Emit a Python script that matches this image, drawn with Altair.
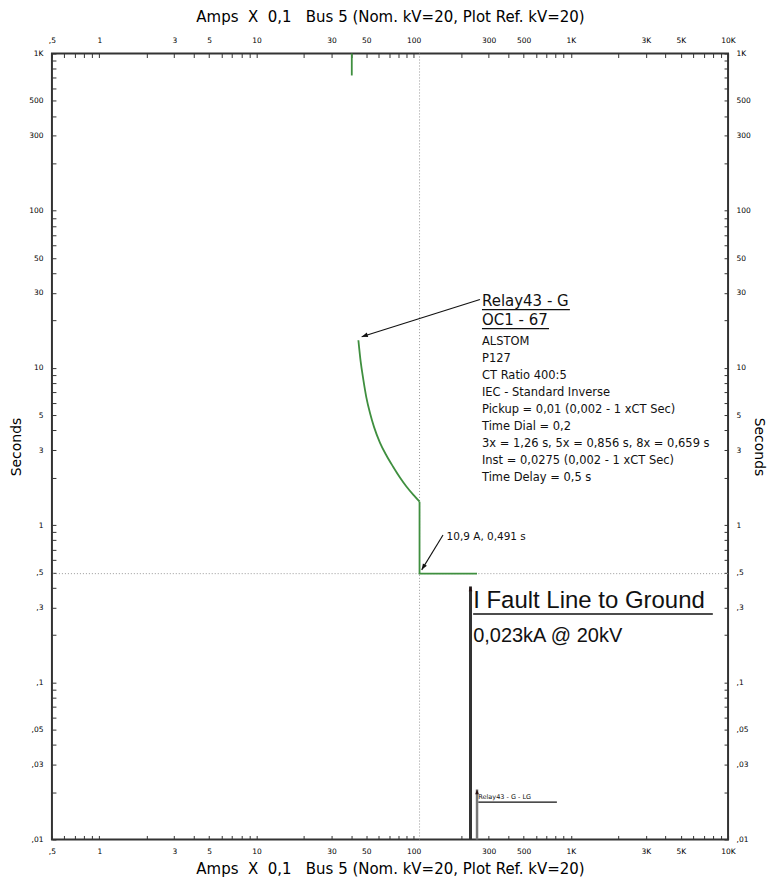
import json
import altair as alt
import pandas as pd

FONT = "Liberation Sans"
DV = "DejaVu Sans"
GREEN = "#3f8f3f"

# ---- data (x: Amps X 0,1 ; y: seconds) ----
curve_amps = [44.5, 46, 47.9, 50, 52.8, 56, 61, 67, 74, 82, 89.9, 100, 109]
curve_secs = [15.0, 11.0, 8.37, 6.5, 5.14, 4.2, 3.35, 2.78, 2.35, 2.0, 1.76, 1.55, 1.41]
step_amps = [109, 109, 253]
step_secs = [1.41, 0.491, 0.491]
pickup_amps = [40.4, 40.4]
pickup_secs = [1000, 725]

ref_amps = [109]          # 10,9 A
ref_secs = [0.491]        # 0,491 s

fault_amps = [230]
fault_top = [0.407]
lg_amps = [253]
lg_top = [0.0208]

# tick values / labels
x_tick_vals = [0.5, 0.6, 0.7, 0.8, 0.9] + [round(m * d, 6) for d in [1, 10, 100, 1000] for m in range(1, 10)] + [10000]
y_tick_vals = [round(m * d, 6) for d in [0.01, 0.1, 1, 10, 100] for m in range(1, 10)] + [1000]
x_label_vals = [0.5, 1, 3, 5, 10, 30, 50, 100, 300, 500, 1000, 3000, 5000, 10000]
x_label_text = [",5", "1", "3", "5", "10", "30", "50", "100", "300", "500", "1K", "3K", "5K", "10K"]
y_label_vals = [0.01, 0.03, 0.05, 0.1, 0.3, 0.5, 1, 3, 5, 10, 30, 50, 100, 300, 500, 1000]
y_label_text = [",01", ",03", ",05", ",1", ",3", ",5", "1", "3", "5", "10", "30", "50", "100", "300", "500", "1K"]

x_title = "Amps\u00a0 X\u00a0 0,1\u00a0\u00a0 Bus 5 (Nom. kV=20, Plot Ref. kV=20)"
y_title = "Seconds"

# annotation text
relay_head = ["Relay43 - G", "OC1 - 67"]
relay_head_amps = [272, 272]
relay_head_secs = [26.7, 20.3]
relay_lines = [
    "ALSTOM",
    "P127",
    "CT Ratio 400:5",
    "IEC - Standard Inverse",
    "Pickup = 0,01 (0,002 - 1  xCT Sec)",
    "Time Dial = 0,2",
    "3x = 1,26 s, 5x = 0,856 s, 8x = 0,659 s",
    "Inst = 0,0275 (0,002 - 1  xCT Sec)",
    "Time Delay = 0,5 s",
]
relay_block_amps = [272]
relay_block_secs = [16.0]

head_ul_x = [272, 272]
head_ul_x2 = [986, 726]
head_ul_y = [23.5, 17.8]

# arrows: start -> tip
arrow_x = [264, 153.7]
arrow_y = [27.2, 0.866]
arrow_x2 = [46.7, 112.5]
arrow_y2 = [15.8, 0.519]
arrow_ang = [252.5, 211.3]

op_text = ["10,9 A, 0,491 s"]
op_amps = [162]
op_secs = [0.845]

fault_text = ["I Fault Line to Ground", "0,023kA @ 20kV"]
fault_text_amps = [239, 239]
fault_text_secs = [0.327, 0.196]
fault_text_size = [24, 20]
fault_ul_x = [239]
fault_ul_x2 = [8000]
fault_ul_y = [0.272]

lg_text = ["Relay43 - G - LG"]
lg_text_amps = [258]
lg_text_secs = [0.01875]
lg_ul_x = [258]
lg_ul_x2 = [815]
lg_ul_y = [0.01726]

# ---- scales & axes ----
xs = alt.Scale(type="log", domain=[0.5, 10000], nice=False)
ys = alt.Scale(type="log", domain=[0.01, 1000], nice=False)

x_expr = f"({json.dumps(x_label_text)})[indexof({json.dumps(x_label_vals)}, datum.value)] || ''"
y_expr = f"({json.dumps(y_label_text)})[indexof({json.dumps(y_label_vals)}, datum.value)] || ''"

common = dict(
    tickSize=4, offset=-4, domain=False, grid=False, tickColor="#333", tickWidth=1,
    labelFontSize=7.5, labelFont=DV, labelColor="#000", labelOverlap=False, labelFlush=False,
    titleFont=DV, titleFontWeight="normal", titleColor="#000",
)


def x_axis(orient, pad, tpad):
    return alt.Axis(orient=orient, values=x_tick_vals, labelExpr=x_expr, labelPadding=pad,
                    title=x_title, titlePadding=tpad, titleFontSize=15, **common)


def y_axis(orient, pad, tpad):
    return alt.Axis(orient=orient, values=y_tick_vals, labelExpr=y_expr, labelPadding=pad,
                    title=y_title, titlePadding=tpad, titleFontSize=14, **common)


curve_df = pd.DataFrame({"amps": curve_amps, "secs": curve_secs})
step_df = pd.DataFrame({"amps": step_amps, "secs": step_secs})
pick_df = pd.DataFrame({"amps": pickup_amps, "secs": pickup_secs})

curve = alt.Chart(curve_df).mark_line(color=GREEN, strokeWidth=1.8, interpolate="monotone").encode(
    x=alt.X("amps:Q", scale=xs, axis=x_axis("bottom", 8, 7)),
    y=alt.Y("secs:Q", scale=ys, axis=y_axis("left", 9, 5)),
)
step = alt.Chart(step_df).mark_line(color=GREEN, strokeWidth=1.8).encode(
    x=alt.X("amps:Q", scale=xs, axis=None), y=alt.Y("secs:Q", scale=ys, axis=None), order="index:Q"
).transform_window(index="row_number()")
pick = alt.Chart(pick_df).mark_line(color=GREEN, strokeWidth=1.8).encode(
    x=alt.X("amps:Q", scale=xs, axis=None), y=alt.Y("secs:Q", scale=ys, axis=None)
)

vref = alt.Chart(pd.DataFrame({"amps": ref_amps})).mark_rule(color="#999", strokeDash=[1, 2], strokeWidth=1).encode(
    x=alt.X("amps:Q", scale=xs, axis=x_axis("top", 9, 12))
)
href = alt.Chart(pd.DataFrame({"secs": ref_secs})).mark_rule(color="#999", strokeDash=[1, 2], strokeWidth=1).encode(
    y=alt.Y("secs:Q", scale=ys, axis=y_axis("right", 8, 1))
)

ARROW = "M0,0 L-0.38,1 L0.38,1 Z"

arrow_df = pd.DataFrame({"x": arrow_x, "y": arrow_y, "x2": arrow_x2, "y2": arrow_y2, "ang": arrow_ang})
arrow_lines = alt.Chart(arrow_df).mark_rule(color="#111", strokeWidth=1.1).encode(
    x=alt.X("x:Q", scale=xs, axis=None), y=alt.Y("y:Q", scale=ys, axis=None), x2="x2:Q", y2="y2:Q"
)
arrow_heads = alt.Chart(arrow_df).mark_point(shape=ARROW, filled=True, size=150, color="#111", opacity=1).encode(
    x=alt.X("x2:Q", scale=xs, axis=None), y=alt.Y("y2:Q", scale=ys, axis=None),
    angle=alt.Angle("ang:Q", scale=None),
)

head_df = pd.DataFrame({"amps": relay_head_amps, "secs": relay_head_secs, "t": relay_head})
heads = alt.Chart(head_df).mark_text(align="left", baseline="middle", font=DV, fontSize=15, color="#111").encode(
    x=alt.X("amps:Q", scale=xs, axis=None), y=alt.Y("secs:Q", scale=ys, axis=None), text="t:N"
)
head_ul = alt.Chart(pd.DataFrame({"x": head_ul_x, "x2": head_ul_x2, "y": head_ul_y})).mark_rule(
    color="#111", strokeWidth=1.3).encode(
    x=alt.X("x:Q", scale=xs, axis=None), x2="x2:Q", y=alt.Y("y:Q", scale=ys, axis=None)
)
block = alt.Chart(pd.DataFrame({"amps": relay_block_amps, "secs": relay_block_secs})).mark_text(
    align="left", baseline="top", font=DV, fontSize=11.5, lineHeight=17.1, color="#111", text=relay_lines
).encode(x=alt.X("amps:Q", scale=xs, axis=None), y=alt.Y("secs:Q", scale=ys, axis=None))

op = alt.Chart(pd.DataFrame({"amps": op_amps, "secs": op_secs, "t": op_text})).mark_text(
    align="left", baseline="middle", font=DV, fontSize=10.5, color="#111").encode(
    x=alt.X("amps:Q", scale=xs, axis=None), y=alt.Y("secs:Q", scale=ys, axis=None), text="t:N"
)

fault_df = pd.DataFrame({"x": fault_amps, "y": [0.01], "y2": fault_top})
fault_line = alt.Chart(fault_df).mark_rule(color="#333", strokeWidth=3).encode(
    x=alt.X("x:Q", scale=xs, axis=None), y=alt.Y("y:Q", scale=ys, axis=None), y2="y2:Q"
)
lg_df = pd.DataFrame({"x": lg_amps, "y": [0.01], "y2": lg_top})
lg_line = alt.Chart(lg_df).mark_rule(color="#777", strokeWidth=2.5).encode(
    x=alt.X("x:Q", scale=xs, axis=None), y=alt.Y("y:Q", scale=ys, axis=None), y2="y2:Q"
)
tips_df = pd.DataFrame({"x": fault_amps + lg_amps, "y": fault_top + lg_top})
tips = alt.Chart(tips_df).mark_point(shape=ARROW, filled=True, size=90, color="#2a1010", opacity=1, angle=0).encode(
    x=alt.X("x:Q", scale=xs, axis=None), y=alt.Y("y:Q", scale=ys, axis=None)
)

ft_df = pd.DataFrame({"amps": fault_text_amps, "secs": fault_text_secs, "t": fault_text, "s": fault_text_size})
fault_txt = alt.Chart(ft_df).mark_text(align="left", baseline="middle", font=FONT, color="#111").encode(
    x=alt.X("amps:Q", scale=xs, axis=None), y=alt.Y("secs:Q", scale=ys, axis=None), text="t:N",
    size=alt.Size("s:Q", scale=None),
)
fault_ul = alt.Chart(pd.DataFrame({"x": fault_ul_x, "x2": fault_ul_x2, "y": fault_ul_y})).mark_rule(
    color="#111", strokeWidth=1.6).encode(
    x=alt.X("x:Q", scale=xs, axis=None), x2="x2:Q", y=alt.Y("y:Q", scale=ys, axis=None)
)

lg_txt = alt.Chart(pd.DataFrame({"amps": lg_text_amps, "secs": lg_text_secs, "t": lg_text})).mark_text(
    align="left", baseline="middle", font=DV, fontSize=6.5, color="#111").encode(
    x=alt.X("amps:Q", scale=xs, axis=None), y=alt.Y("secs:Q", scale=ys, axis=None), text="t:N"
)
lg_ul = alt.Chart(pd.DataFrame({"x": lg_ul_x, "x2": lg_ul_x2, "y": lg_ul_y})).mark_rule(
    color="#111", strokeWidth=1.2).encode(
    x=alt.X("x:Q", scale=xs, axis=None), x2="x2:Q", y=alt.Y("y:Q", scale=ys, axis=None)
)

chart = alt.layer(
    vref, href, curve, step, pick, arrow_lines, arrow_heads, heads, head_ul, block, op,
    fault_line, lg_line, tips, fault_txt, fault_ul, lg_txt, lg_ul,
).resolve_axis(x="independent", y="independent").properties(
    width=677, height=787,
    padding={"left": 44, "top": 45, "right": 42, "bottom": 40},
    autosize=alt.AutoSizeParams(type="none"),
    background="white",
).configure_view(stroke="#333", strokeWidth=2)

chart.save("out.html", embed_options={"renderer": "svg", "actions": False})
